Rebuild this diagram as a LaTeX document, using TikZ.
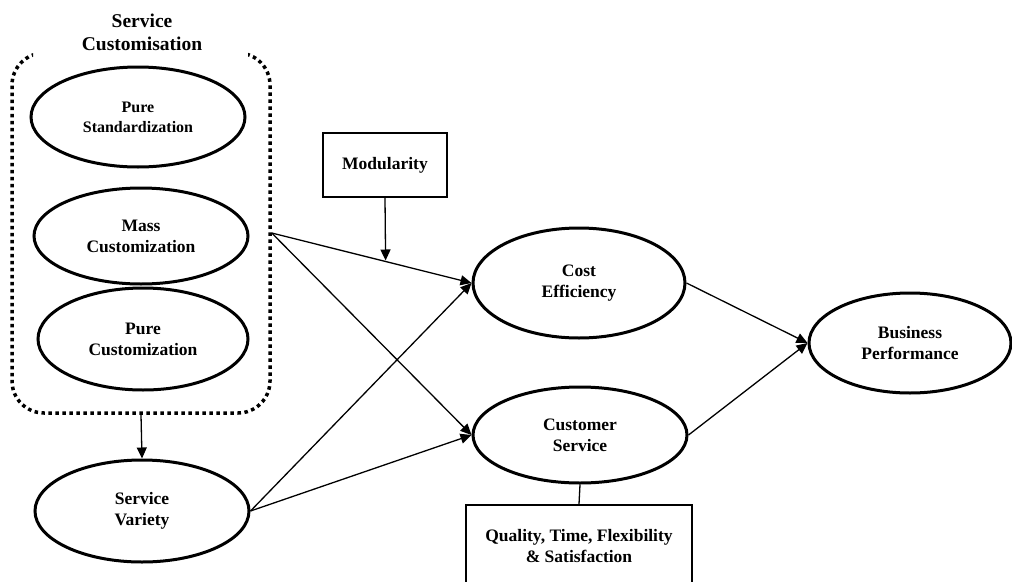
\documentclass[tikz,border=0pt]{standalone}
\usepackage{fontspec}
\setmainfont{Liberation Serif}
\usetikzlibrary{shapes.geometric,arrows.meta,calc}
\tikzset{
  ell/.style={ellipse, draw, line width=3pt, inner sep=0pt, align=center,
    font=\bfseries\fontsize{17.5}{21}\selectfont},
  sqbox/.style={rectangle, draw, line width=1.5pt, inner sep=0pt, align=center,
    font=\bfseries\fontsize{17.5}{21}\selectfont},
  dotbox/.style={rectangle, draw, rounded corners=32pt, line width=3.5pt,
    dash pattern=on 3.5pt off 3.5pt, inner sep=0pt},
  arr/.style={-{Triangle[length=11pt,width=10pt]}, line width=1.3pt},
  plain/.style={line width=1.3pt}
}
\begin{document}
\begin{tikzpicture}[x=1pt,y=-1pt]
\useasboundingbox (0,0) rectangle (1012,581);
\clip (0,0) rectangle (1012,581);
% dotted group, with a gap at the top for its title
\begin{scope}
  \clip (0,0) rectangle (33,581) (248,0) rectangle (1012,581) (0,62) rectangle (1012,581);
  \node[dotbox, minimum width=258pt, minimum height=360pt] (sc) at (141,233) {};
\end{scope}
\node[align=center, inner sep=0pt, font=\bfseries\fontsize{19.5}{23}\selectfont] (title) at (142,32) {Service\\Customisation};

\node[ell, minimum width=214pt, minimum height=100pt, font=\bfseries\fontsize{16}{20}\selectfont] (std) at (138,117) {Pure\\Standardization};
\node[ell, minimum width=214pt, minimum height=96pt] (mass) at (141,236) {Mass\\Customization};
\node[ell, minimum width=210pt, minimum height=102pt] (purec) at (143,339) {Pure\\Customization};
\node[ell, minimum width=214pt, minimum height=102pt] (var) at (142,511) {Service\\Variety};
\node[ell, minimum width=212pt, minimum height=110pt] (cost) at (579,283) {Cost\\Efficiency};
\node[ell, minimum width=214pt, minimum height=96pt] (cust) at (580,435) {Customer\\Service};
\node[ell, minimum width=202pt, minimum height=100pt] (bus) at (910,343) {Business\\Performance};

\node[sqbox, minimum width=124pt, minimum height=64pt] (mod) at (385,165) {Modularity};
\node[sqbox, minimum width=226pt, minimum height=82pt] (qual) at (579,546) {Quality, Time, Flexibility\\\& Satisfaction};

\draw[arr] (sc.south) -- (var.north);
\draw[arr] (sc.east) -- (cost.west);
\draw[arr] (sc.east) -- (cust.west);
\draw[arr] (var.east) -- (cost.west);
\draw[arr] (var.east) -- (cust.west);
\draw[arr] (cost.east) -- (bus.west);
\draw[arr] (cust.east) -- (bus.west);
\coordinate (modin) at ($(sc.east)!0.57!(cost.west)$);
\draw[arr, shorten >=1pt] (mod.south) -- (modin);
\draw[plain] (cust.south) -- (qual.north);
\end{tikzpicture}
\end{document}
